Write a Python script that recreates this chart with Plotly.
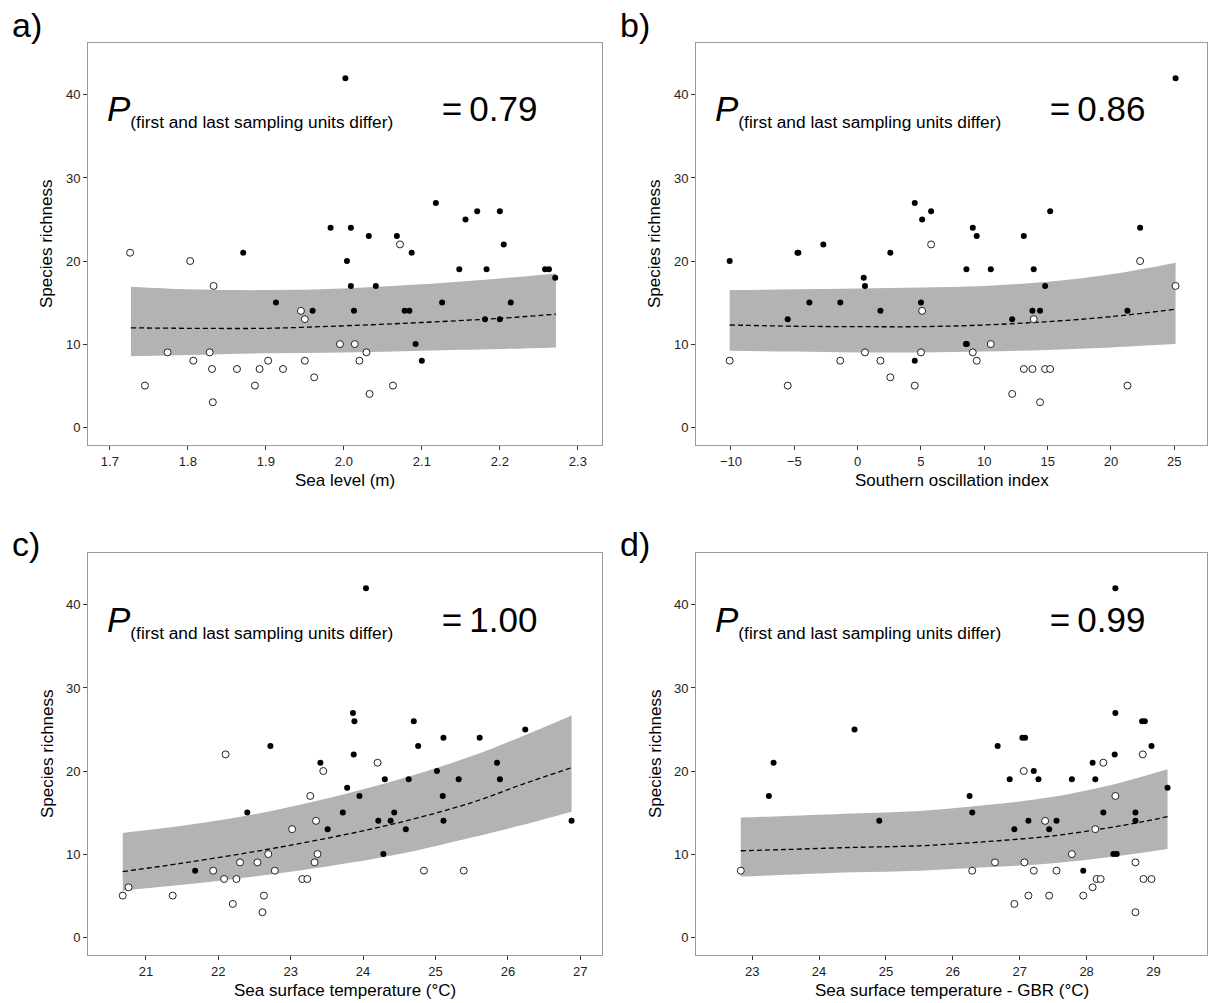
import plotly.graph_objects as go

# ---------------- DATA ----------------
# Panel a: Sea level (m)
a_open_x = [1.726, 1.745, 1.774, 1.803, 1.807, 1.828, 1.833, 1.831, 1.832, 1.863, 1.886, 1.892, 1.903,
            1.922, 1.945, 1.950, 1.950, 1.962, 1.995, 2.014, 2.020, 2.029, 2.033, 2.063, 2.072]
a_open_y = [21, 5, 9, 20, 8, 9, 17, 7, 3, 7, 5, 7, 8, 7, 14, 13, 8, 6, 10, 10, 8, 9, 4, 5, 22]
a_fill_x = [1.871, 1.913, 1.960, 1.983, 2.002, 2.004, 2.009, 2.009, 2.013, 2.032, 2.041, 2.068, 2.078,
            2.084, 2.087, 2.092, 2.100, 2.118, 2.126, 2.148, 2.156, 2.171, 2.181, 2.183, 2.200, 2.200,
            2.205, 2.214, 2.258, 2.263, 2.271]
a_fill_y = [21, 15, 14, 24, 42, 20, 24, 17, 14, 23, 17, 23, 14, 14, 21, 10, 8, 27, 15, 19, 25, 26, 13,
            19, 26, 13, 22, 15, 19, 19, 18]
a_fit_x = [1.727, 1.8, 1.9, 2.0, 2.1, 2.2, 2.272]
a_fit_mean = [11.96, 11.9, 11.9, 12.2, 12.6, 13.1, 13.6]
a_fit_hi = [16.9, 16.6, 16.5, 16.7, 17.2, 17.9, 18.5]
a_fit_lo = [8.55, 8.7, 8.9, 9.0, 9.2, 9.4, 9.6]

# Panel b: Southern oscillation index
b_open_x = [-10.1, -5.52, -1.37, 0.58, 1.80, 2.58, 4.51, 5.0, 5.09, 5.80, 9.09, 9.40, 10.51, 13.12,
            13.8, 13.9, 14.8, 15.2, 12.2, 14.4, 21.3, 22.3, 25.1]
b_open_y = [8, 5, 8, 9, 8, 6, 5, 9, 14, 22, 9, 8, 10, 7, 7, 13, 7, 7, 4, 3, 5, 20, 17]
b_fill_x = [-10.1, -4.75, -4.68, -2.71, -3.81, -5.52, -1.37, 0.48, 0.58, 1.80, 2.58, 4.51, 5.80, 5.09,
            5.0, 4.51, 25.1, 15.2, 9.09, 9.40, 13.12, 22.3, 8.59, 10.51, 13.9, 14.8, 13.8, 14.4, 21.3,
            12.2, 8.55, 8.62]
b_fill_y = [20, 21, 21, 22, 15, 13, 15, 18, 17, 14, 21, 27, 26, 25, 15, 8, 42, 26, 24, 23, 23, 24, 19,
            19, 19, 17, 14, 14, 14, 13, 10, 10]
b_fit_x = [-10.1, -5, 0, 5, 10, 15, 20, 25.1]
b_fit_mean = [12.3, 12.15, 12.1, 12.1, 12.3, 12.7, 13.3, 14.2]
b_fit_hi = [16.5, 16.6, 16.7, 16.8, 17.0, 17.5, 18.4, 19.8]
b_fit_lo = [9.2, 9.1, 9.0, 9.0, 9.1, 9.3, 9.6, 10.0]

# Panel c: Sea surface temperature (°C)
c_open_x = [20.68, 20.76, 21.37, 21.93, 22.08, 22.10, 22.25, 22.20, 22.30, 22.54, 22.69, 22.78, 22.63,
            22.61, 23.02, 23.16, 23.23, 23.27, 23.35, 23.37, 23.33, 23.45, 24.20, 24.84, 25.39]
c_open_y = [5, 6, 5, 8, 7, 22, 7, 4, 9, 9, 10, 8, 5, 3, 13, 7, 7, 17, 14, 10, 9, 20, 21, 8, 8]
c_fill_x = [21.68, 22.40, 22.72, 23.41, 23.51, 23.72, 23.78, 23.86, 23.88, 23.87, 23.95, 24.04, 24.30,
            24.21, 24.38, 24.43, 24.59, 24.63, 24.28, 24.70, 24.76, 25.02, 25.11, 25.10, 25.11, 25.32,
            25.61, 25.85, 25.89, 26.24, 26.88]
c_fill_y = [8, 15, 23, 21, 13, 15, 18, 27, 26, 22, 17, 42, 19, 14, 14, 15, 13, 19, 10, 26, 23, 20, 24,
            17, 14, 19, 24, 21, 19, 25, 14]
c_fit_x = [20.68, 21.5, 22.5, 23.5, 24.5, 25.5, 26.2, 26.88]
c_fit_mean = [7.9, 8.9, 10.3, 11.9, 13.8, 16.2, 18.4, 20.4]
c_fit_hi = [12.55, 13.4, 14.8, 16.7, 19.0, 21.8, 24.2, 26.7]
c_fit_lo = [5.6, 6.3, 7.3, 8.5, 10.0, 12.0, 13.5, 15.1]

# Panel d: Sea surface temperature - GBR (°C)
d_open_x = [22.83, 28.84, 28.25, 27.06, 28.43, 27.38, 28.13, 27.78, 26.63, 27.07, 28.73, 26.29, 27.21,
            27.55, 28.15, 28.21, 28.85, 28.97, 28.09, 27.13, 27.44, 27.95, 26.92, 28.73]
d_open_y = [8, 22, 21, 20, 17, 14, 13, 10, 9, 9, 9, 8, 8, 8, 7, 7, 7, 7, 6, 5, 5, 5, 4, 3]
d_fill_x = [23.25, 23.32, 24.53, 24.90, 28.43, 28.43, 28.83, 28.87, 26.67, 27.04, 27.08, 28.97, 28.42,
            28.09, 27.21, 26.85, 27.28, 27.78, 28.13, 29.21, 26.25, 26.29, 28.25, 28.73, 27.13, 27.55,
            28.73, 26.92, 27.44, 27.95, 28.40, 28.45]
d_fill_y = [17, 21, 25, 14, 42, 27, 26, 26, 23, 24, 24, 23, 22, 21, 20, 19, 19, 19, 19, 18, 17, 15, 15,
            15, 14, 14, 14, 13, 13, 8, 10, 10]
d_fit_x = [22.83, 23.5, 24.5, 25.5, 26.5, 27.5, 28.5, 29.21]
d_fit_mean = [10.4, 10.55, 10.8, 11.0, 11.5, 12.2, 13.4, 14.5]
d_fit_hi = [14.4, 14.6, 14.9, 15.2, 15.9, 16.9, 18.6, 20.2]
d_fit_lo = [7.3, 7.5, 7.8, 8.0, 8.4, 8.9, 9.8, 10.6]

panel_letters = ["a)", "b)", "c)", "d)"]
x_titles = ["Sea level (m)", "Southern oscillation index",
            "Sea surface temperature (°C)", "Sea surface temperature - GBR (°C)"]
y_title = "Species richness"
p_values = ["0.79", "0.86", "1.00", "0.99"]
y_ticks = [0, 10, 20, 30, 40]

# ---------------- LAYOUT GEOMETRY ----------------
W, H = 1208, 1003
FONT = "Liberation Sans, Arial, sans-serif"
# plot boxes in pixels (left, right, top, bottom)
boxes = [(88, 602, 43, 445), (696, 1207, 43, 445), (88, 602, 553, 955), (696, 1207, 553, 955)]
x_ranges = [[1.672, 2.331], [-12.76, 27.58], [20.20, 27.30], [22.16, 29.80]]
x_tickvals = [[1.7, 1.8, 1.9, 2.0, 2.1, 2.2, 2.3], [-10, -5, 0, 5, 10, 15, 20, 25],
              [21, 22, 23, 24, 25, 26, 27], [23, 24, 25, 26, 27, 28, 29]]
x_ticktext = [["1.7", "1.8", "1.9", "2.0", "2.1", "2.2", "2.3"], None, None, None]
y_range = [-2.15, 46.25]

panels = [
    (a_open_x, a_open_y, a_fill_x, a_fill_y, a_fit_x, a_fit_mean, a_fit_hi, a_fit_lo),
    (b_open_x, b_open_y, b_fill_x, b_fill_y, b_fit_x, b_fit_mean, b_fit_hi, b_fit_lo),
    (c_open_x, c_open_y, c_fill_x, c_fill_y, c_fit_x, c_fit_mean, c_fit_hi, c_fit_lo),
    (d_open_x, d_open_y, d_fill_x, d_fill_y, d_fit_x, d_fit_mean, d_fit_hi, d_fit_lo),
]

fig = go.Figure()
layout = dict(
    width=W, height=H, margin=dict(l=0, r=0, t=0, b=0),
    paper_bgcolor="white", plot_bgcolor="white", showlegend=False,
    font=dict(family=FONT, color="black"),
)
annotations = []

for i, (ox, oy, fx, fy, tx, tm, th, tl) in enumerate(panels):
    n = "" if i == 0 else str(i + 1)
    xa, ya = "x" + n, "y" + n
    L, R, T, B = boxes[i]
    layout["xaxis" + n] = dict(
        domain=[L / W, R / W], range=x_ranges[i], anchor=ya,
        tickvals=x_tickvals[i], ticktext=x_ticktext[i],
        showgrid=False, zeroline=False, showline=True, mirror=True,
        linecolor="#9a9a9a", linewidth=1, ticks="outside", ticklen=4, tickcolor="#333333",
        tickfont=dict(size=13, color="#222222", family=FONT),
    )
    layout["yaxis" + n] = dict(
        domain=[(H - B) / H, (H - T) / H], range=y_range, anchor=xa,
        tickvals=y_ticks, showgrid=False, zeroline=False, showline=True, mirror=True,
        linecolor="#9a9a9a", linewidth=1, ticks="outside", ticklen=4, tickcolor="#333333",
        tickfont=dict(size=13, color="#222222", family=FONT),
    )
    # confidence ribbon
    fig.add_trace(go.Scatter(x=tx, y=tl, mode="lines", line=dict(width=0, shape="spline"),
                             xaxis=xa, yaxis=ya, hoverinfo="skip"))
    fig.add_trace(go.Scatter(x=tx, y=th, mode="lines", line=dict(width=0, shape="spline"),
                             fill="tonexty", fillcolor="rgb(179,179,179)",
                             xaxis=xa, yaxis=ya, hoverinfo="skip"))
    # fitted mean
    fig.add_trace(go.Scatter(x=tx, y=tm, mode="lines",
                             line=dict(color="black", width=1.3, dash="5px,3px", shape="spline"),
                             xaxis=xa, yaxis=ya))
    # open points
    fig.add_trace(go.Scatter(x=ox, y=oy, mode="markers",
                             marker=dict(size=7, color="white", line=dict(color="#222222", width=1)),
                             xaxis=xa, yaxis=ya))
    # filled points
    fig.add_trace(go.Scatter(x=fx, y=fy, mode="markers",
                             marker=dict(size=6, color="black", line=dict(width=0)),
                             xaxis=xa, yaxis=ya))

    # panel letter
    letter_y = T - 18 if i < 2 else T - 9
    annotations.append(dict(text=panel_letters[i], xref="paper", yref="paper",
                            x=(L - 78) / W, y=(H - letter_y) / H,
                            xanchor="left", yanchor="middle", showarrow=False,
                            font=dict(size=34, family=FONT, color="black")))
    # P annotation
    ptxt = ("<i>P</i><sub><span style='font-size:17.3px'>(first and last sampling units differ)</span></sub>"
            + "\u00a0" * 5 + "=\u2009" + p_values[i])
    annotations.append(dict(text=ptxt, xref="paper", yref="paper",
                            x=(L + 17) / W, y=(H - (T + 68)) / H,
                            xanchor="left", yanchor="middle", showarrow=False,
                            font=dict(size=35, family=FONT, color="black")))
    # axis titles
    annotations.append(dict(text=x_titles[i], xref="paper", yref="paper",
                            x=((L + R) / 2) / W, y=(H - (B + 35)) / H,
                            xanchor="center", yanchor="middle", showarrow=False,
                            font=dict(size=17, family=FONT, color="black")))
    annotations.append(dict(text=y_title, xref="paper", yref="paper", textangle=-90,
                            x=(L - 41) / W, y=(H - (T + B) / 2) / H,
                            xanchor="center", yanchor="middle", showarrow=False,
                            font=dict(size=17, family=FONT, color="black")))

layout["annotations"] = annotations
fig.update_layout(**layout)
fig.write_html("out.html")
